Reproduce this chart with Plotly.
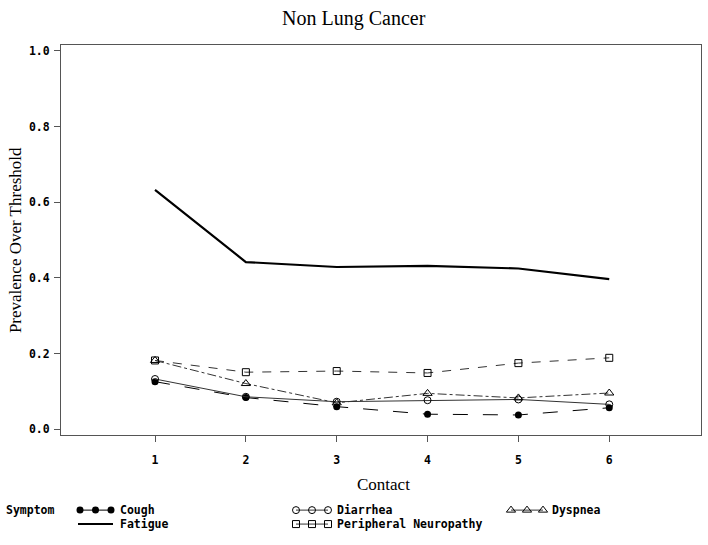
import plotly.graph_objects as go

# ---- data ----
contacts = [1, 2, 3, 4, 5, 6]
cough = [0.126, 0.084, 0.060, 0.040, 0.038, 0.057]
diarrhea = [0.133, 0.086, 0.073, 0.077, 0.079, 0.066]
dyspnea = [0.182, 0.121, 0.070, 0.095, 0.083, 0.096]
fatigue = [0.633, 0.442, 0.429, 0.432, 0.425, 0.397]
periph_neuro = [0.182, 0.151, 0.154, 0.149, 0.175, 0.189]
y_ticks = [0.0, 0.2, 0.4, 0.6, 0.8, 1.0]
y_ticklabels = ["0.0", "0.2", "0.4", "0.6", "0.8", "1.0"]

W, H = 708, 545
MONO = "DejaVu Sans Mono"
SERIF = "Liberation Serif"
AX = "#555555"

series = [
    ("Cough", cough, dict(symbol="circle", size=7, color="black"), dict(color="black", width=1, dash="longdash")),
    ("Diarrhea", diarrhea, dict(symbol="circle-open", size=7, color="black", line=dict(width=1)), dict(color="#333333", width=1, dash="solid")),
    ("Dyspnea", dyspnea, dict(symbol="triangle-up-open", size=8, color="black", line=dict(width=1)), dict(color="#333333", width=1, dash="dashdot")),
    ("Fatigue", fatigue, None, dict(color="black", width=2.2, dash="solid")),
    ("Peripheral Neuropathy", periph_neuro, dict(symbol="square-open", size=7, color="black", line=dict(width=1)), dict(color="#333333", width=1, dash="dash")),
]

fig = go.Figure()
for name, vals, mk, ln in series:
    fig.add_trace(go.Scatter(
        x=contacts, y=vals, name=name,
        mode="lines+markers" if mk else "lines",
        marker=mk, line=ln, xaxis="x", yaxis="y", showlegend=False,
    ))

# ---- manual legend (pixel-coordinate overlay axis) ----
legend_layout = {
    "Cough": (78, 113, 511),
    "Fatigue": (78, 113, 525),
    "Diarrhea": (294, 330, 511),
    "Peripheral Neuropathy": (294, 330, 525),
    "Dyspnea": (509, 545, 511),
}
annotations = []
for name, vals, mk, ln in series:
    x0, x1, yy = legend_layout[name]
    if mk:
        xs = [x0 + 2, (x0 + x1) / 2, x1 - 2]
        fig.add_trace(go.Scatter(x=xs, y=[yy] * 3, mode="lines+markers", marker=mk,
                                 line=dict(color=ln["color"], width=1, dash="solid"),
                                 xaxis="x2", yaxis="y2", showlegend=False, hoverinfo="skip"))
    else:
        fig.add_trace(go.Scatter(x=[x0, x1], y=[yy, yy], mode="lines",
                                 line=dict(color="black", width=2, dash="solid"),
                                 xaxis="x2", yaxis="y2", showlegend=False, hoverinfo="skip"))
    annotations.append(dict(x=x1 + 5, y=yy, xref="x2", yref="y2", text=name, showarrow=False,
                            xanchor="left", yanchor="middle",
                            font=dict(family=MONO, size=11.5, color="black", weight="bold")))

annotations.append(dict(x=4, y=511, xref="x2", yref="y2", text="Symptom", showarrow=False,
                        xanchor="left", yanchor="middle",
                        font=dict(family=MONO, size=11.5, color="black", weight="bold")))
annotations.append(dict(x=354, y=18, xref="x2", yref="y2", text="Non Lung Cancer", showarrow=False,
                        xanchor="center", yanchor="middle", font=dict(family=SERIF, size=20, color="black")))
annotations.append(dict(x=383, y=485, xref="x2", yref="y2", text="Contact", showarrow=False,
                        xanchor="center", yanchor="middle", font=dict(family=SERIF, size=17, color="black")))
annotations.append(dict(x=15, y=240, xref="x2", yref="y2", text="Prevalence Over Threshold", showarrow=False,
                        textangle=-90, xanchor="center", yanchor="middle",
                        font=dict(family=SERIF, size=17, color="black")))

tickfont = dict(family=MONO, size=11.5, color="black", weight="bold")
fig.update_layout(
    width=W, height=H,
    margin=dict(l=0, r=0, t=0, b=0, pad=0),
    paper_bgcolor="white", plot_bgcolor="rgba(0,0,0,0)",
    showlegend=False,
    xaxis=dict(domain=[61 / W, 701 / W], range=[-0.035, 7.01], tickvals=contacts,
               ticks="outside", ticklen=6, tickcolor=AX, showline=True, mirror=True,
               linecolor=AX, linewidth=1, showgrid=False, zeroline=False,
               tickfont=tickfont, ticklabelstandoff=8, anchor="y"),
    yaxis=dict(domain=[1 - 436 / H, 1 - 44 / H], range=[-0.016, 1.016], tickvals=y_ticks,
               ticktext=y_ticklabels, ticks="outside", ticklen=6, tickcolor=AX,
               showline=True, mirror=True, linecolor=AX, linewidth=1, showgrid=False,
               zeroline=False, tickfont=tickfont, ticklabelstandoff=2, anchor="x"),
    xaxis2=dict(domain=[0, 1], range=[0, W], visible=False, anchor="y2", fixedrange=True),
    yaxis2=dict(domain=[0, 1], range=[H, 0], visible=False, anchor="x2", fixedrange=True),
    annotations=annotations,
)

fig.write_html("out.html", config={"displayModeBar": False},
               post_script="document.body.style.margin='0';")
